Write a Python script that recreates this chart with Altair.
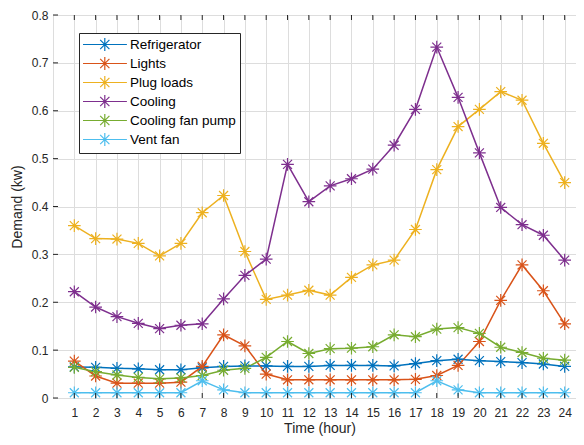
import altair as alt
import pandas as pd

hours = list(range(1, 25))
series_names = ["Refrigerator", "Lights", "Plug loads", "Cooling", "Cooling fan pump", "Vent fan"]
colors = ["#0072BD", "#D95319", "#EDB120", "#7E2F8E", "#77AC30", "#4DBEEE"]

refrigerator = [0.065, 0.064, 0.062, 0.061, 0.059, 0.059, 0.063, 0.066, 0.067, 0.067, 0.066, 0.066,
                0.068, 0.068, 0.068, 0.067, 0.072, 0.078, 0.081, 0.078, 0.076, 0.074, 0.071, 0.066]
lights = [0.077, 0.046, 0.031, 0.031, 0.031, 0.033, 0.066, 0.132, 0.109, 0.050, 0.038, 0.038,
          0.038, 0.038, 0.038, 0.038, 0.039, 0.047, 0.068, 0.118, 0.204, 0.278, 0.224, 0.155]
plug_loads = [0.360, 0.333, 0.332, 0.323, 0.297, 0.323, 0.387, 0.423, 0.306, 0.206, 0.215, 0.225,
              0.215, 0.252, 0.278, 0.288, 0.352, 0.477, 0.567, 0.603, 0.640, 0.622, 0.532, 0.450]
cooling = [0.222, 0.190, 0.170, 0.156, 0.145, 0.152, 0.155, 0.207, 0.256, 0.290, 0.488, 0.410,
           0.443, 0.458, 0.478, 0.528, 0.603, 0.733, 0.628, 0.512, 0.398, 0.362, 0.340, 0.288]
cooling_fan_pump = [0.064, 0.055, 0.048, 0.043, 0.040, 0.042, 0.047, 0.058, 0.062, 0.085, 0.118, 0.093,
                    0.103, 0.104, 0.107, 0.132, 0.128, 0.144, 0.147, 0.135, 0.106, 0.095, 0.083, 0.079]
vent_fan = [0.011, 0.011, 0.011, 0.011, 0.011, 0.011, 0.036, 0.017, 0.011, 0.011, 0.011, 0.011,
            0.011, 0.011, 0.011, 0.011, 0.011, 0.036, 0.017, 0.011, 0.011, 0.011, 0.011, 0.011]

y_ticks = [0.0, 0.1, 0.2, 0.3, 0.4, 0.5, 0.6, 0.7, 0.8]

all_series = [refrigerator, lights, plug_loads, cooling, cooling_fan_pump, vent_fan]
rows = []
for si, (name, vals) in enumerate(zip(series_names, all_series)):
    for h, v in zip(hours, vals):
        rows.append({"hour": h, "demand": v, "series": name, "order": si})
df = pd.DataFrame(rows)

W, H = 533, 383
FONT = "Liberation Sans"
AX = "#262626"

ASTER = "M0,-1L0,1M-1,0L1,0M-0.71,-0.71L0.71,0.71M-0.71,0.71L0.71,-0.71"
c = 2.2
LEG = (f"M-1.15,0L5.6,0M{c},-1L{c},1M{c-1},0L{c+1},0"
       f"M{c-0.71},-0.71L{c+0.71},0.71M{c-0.71},0.71L{c+0.71},-0.71")

x_scale = alt.Scale(domain=[0, 25], nice=False, zero=False)
y_scale = alt.Scale(domain=[0, 0.8], nice=False)
color_scale = alt.Scale(domain=series_names, range=colors)

x_axis = alt.Axis(values=hours, grid=True, ticks=False, domain=False, title="Time (hour)",
                  labelFont=FONT, labelFontSize=12, labelColor=AX, labelPadding=9,
                  titleFont=FONT, titleFontSize=14, titleFontWeight="normal", titleColor=AX,
                  titlePadding=3, labelFlush=False)
y_axis = alt.Axis(values=y_ticks, grid=True, ticks=False, domain=False, title="Demand (kw)",
                  format=".1~f", labelFont=FONT, labelFontSize=12, labelColor=AX, labelPadding=5,
                  titleFont=FONT, titleFontSize=14, titleFontWeight="normal", titleColor=AX,
                  titlePadding=7, labelFlush=False)
legend = alt.Legend(
    title=None, orient="none", legendX=26, legendY=18,
    symbolType=LEG, symbolSize=169, symbolStrokeWidth=1.2, symbolFillColor="transparent",
    labelFont=FONT, labelFontSize=13.5, labelColor="#000000", labelOffset=32,
    rowPadding=0, padding=4, strokeColor=AX, fillColor="#ffffff",
)

X = alt.X("hour:Q", scale=x_scale, axis=x_axis)
Y = alt.Y("demand:Q", scale=y_scale, axis=y_axis)
C = alt.Color("series:N", scale=color_scale, legend=legend)

base = alt.Chart(df)
lines = base.mark_line(strokeWidth=1.5).encode(x=X, y=Y, color=C, order="hour:Q")
points = base.mark_point(shape=ASTER, size=160, filled=False, strokeWidth=1.2, opacity=1).encode(
    x=X, y=Y, color=C)

xt = pd.DataFrame({"hour": hours})
yt = pd.DataFrame({"demand": y_ticks})
tick_style = dict(color=AX, strokeWidth=1)
bottom_ticks = alt.Chart(xt).mark_rule(**tick_style).encode(
    x=X, y=alt.value(H), y2=alt.value(H - 5))
top_ticks = alt.Chart(xt).mark_rule(**tick_style).encode(
    x=X, y=alt.value(0), y2=alt.value(5))
left_ticks = alt.Chart(yt).mark_rule(**tick_style).encode(
    y=Y, x=alt.value(0), x2=alt.value(5))
right_ticks = alt.Chart(yt).mark_rule(**tick_style).encode(
    y=Y, x=alt.value(W), x2=alt.value(W - 5))

chart = alt.layer(lines, points, bottom_ticks, top_ticks, left_ticks, right_ticks).properties(
    width=W, height=H,
    autosize=alt.AutoSizeParams(type="none"),
    padding={"left": 45, "top": 7, "right": -10, "bottom": 39},
).configure_view(stroke=AX, strokeWidth=1).configure_axis(
    gridColor="#d9d9d9", gridWidth=1
).configure(background="#ffffff")

chart.save("out.html", embed_options={"renderer": "svg", "actions": False})
